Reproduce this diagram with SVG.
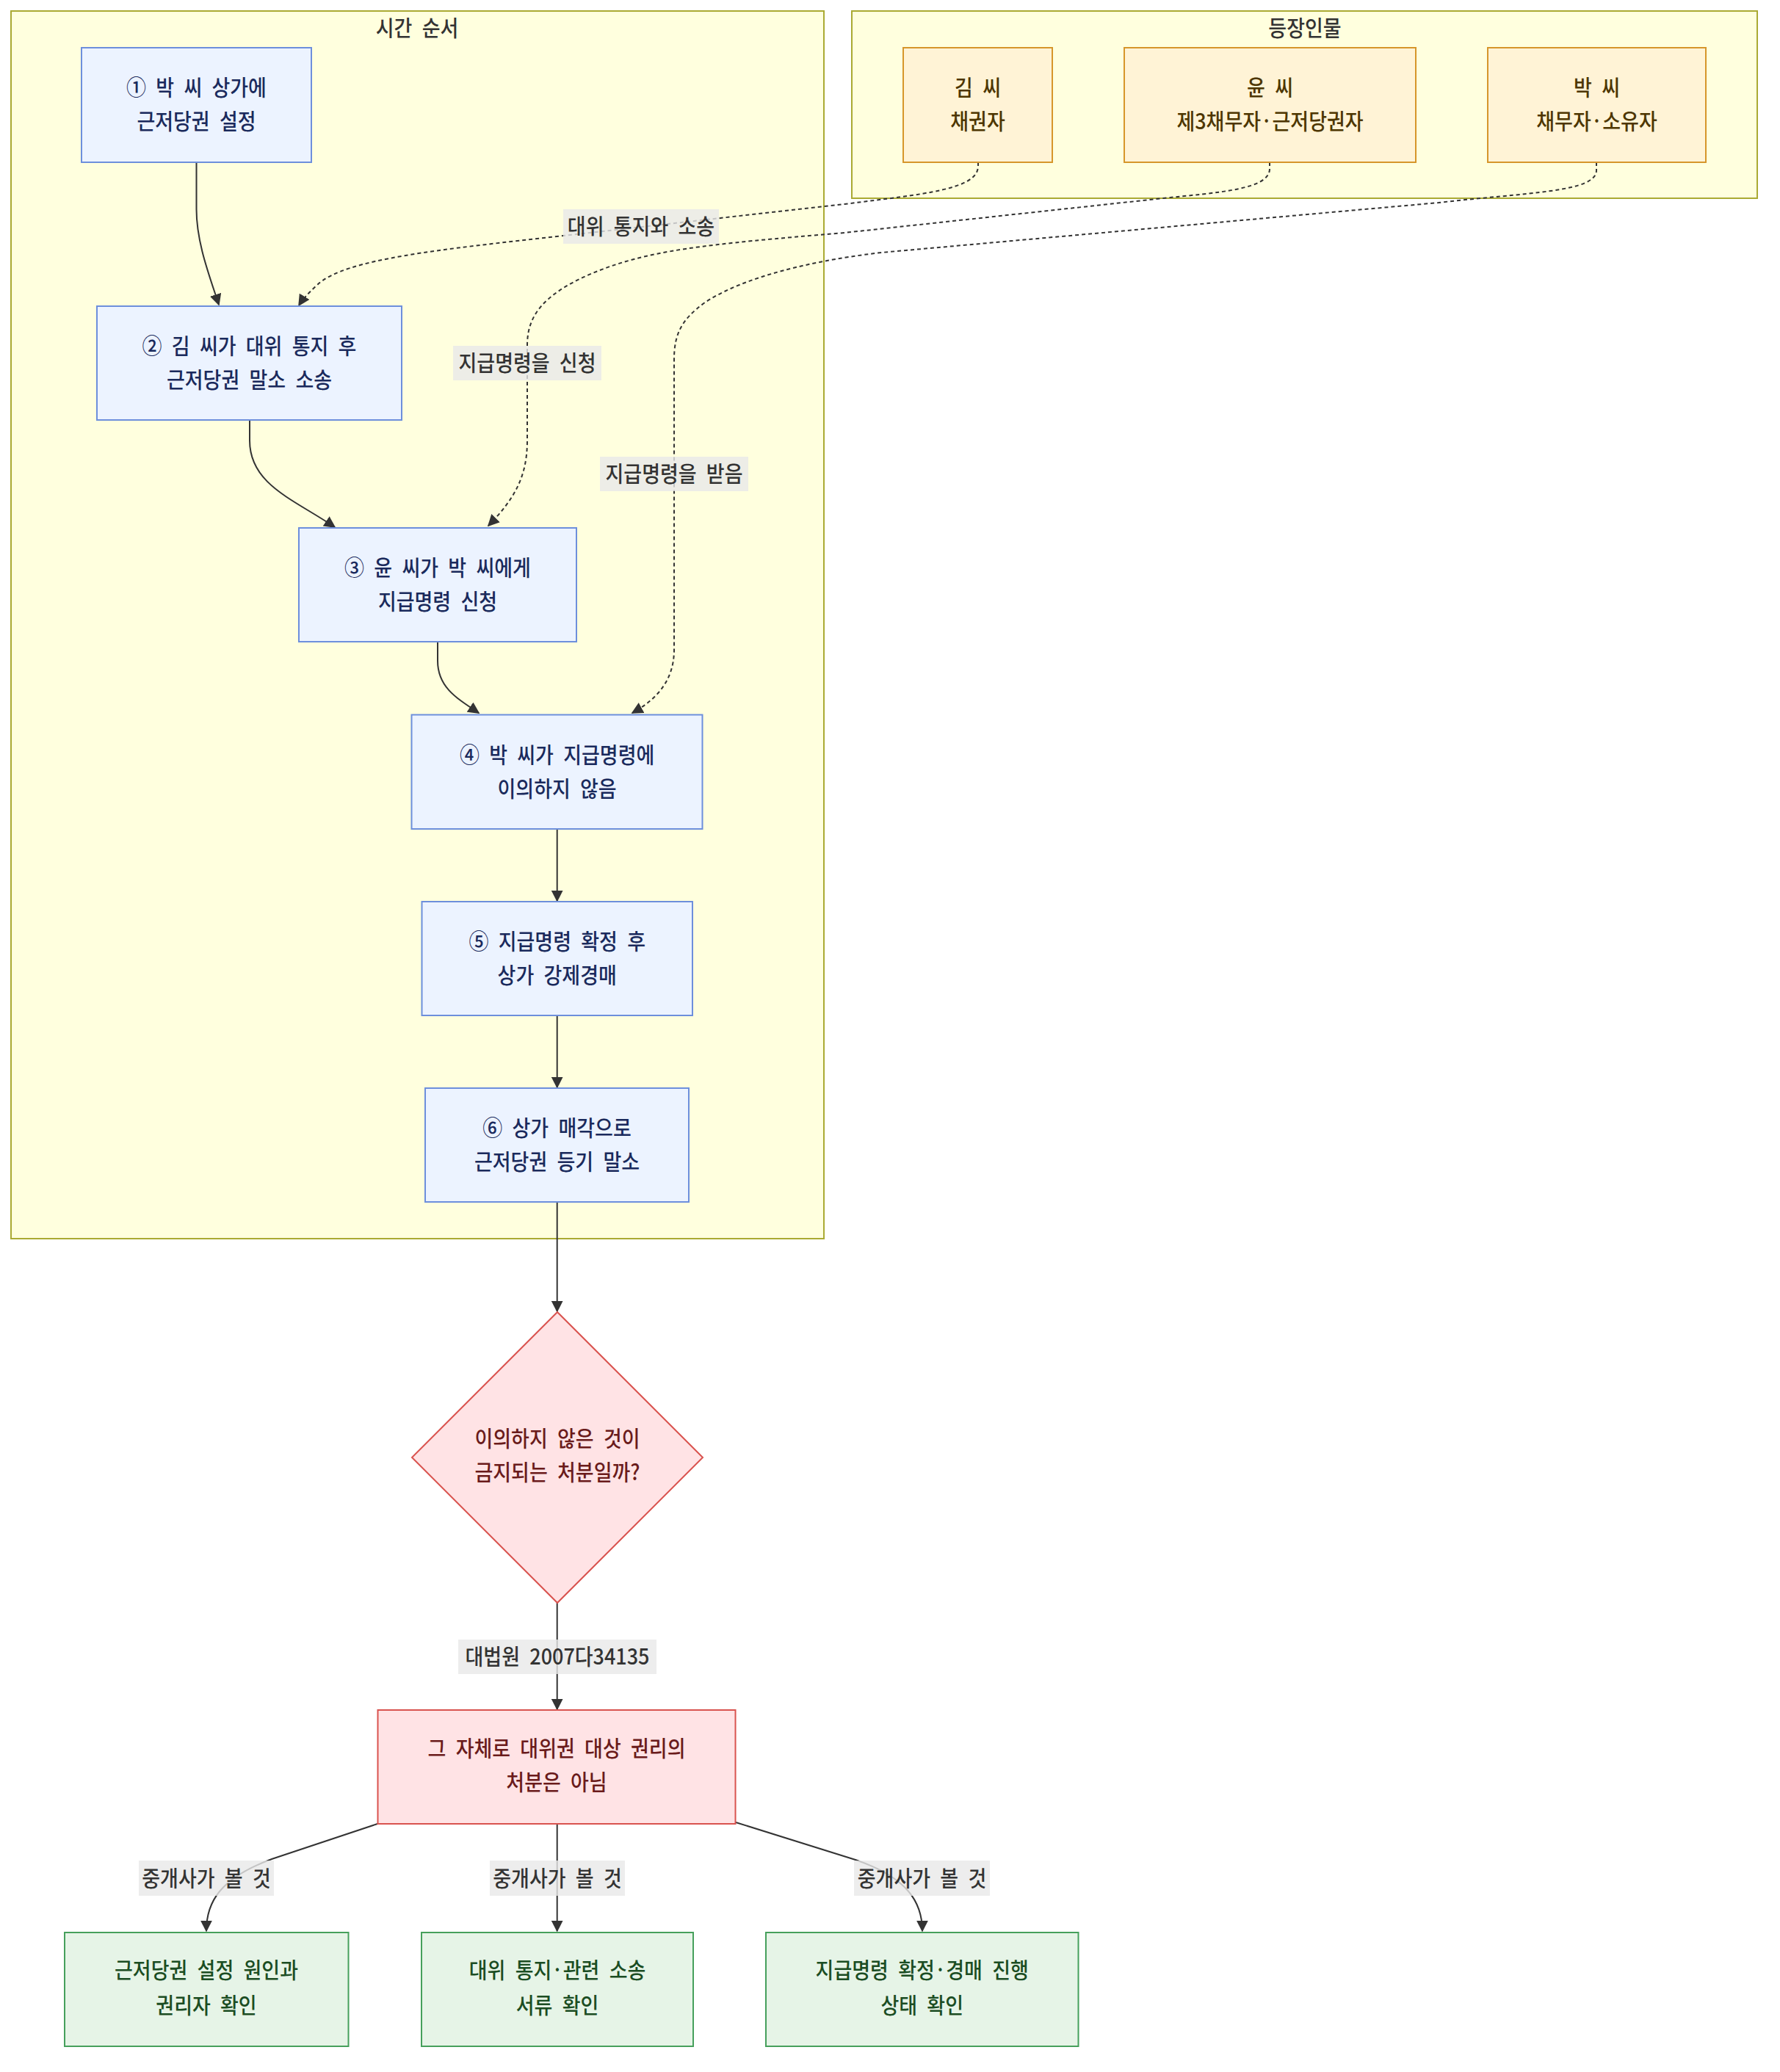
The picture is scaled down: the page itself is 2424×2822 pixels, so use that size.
<svg xmlns="http://www.w3.org/2000/svg" width="2424" height="2822" viewBox="0 0 2424 2822">
<style>
.t{font-family:"Noto Sans CJK KR","Noto Sans",sans-serif;font-size:30px;font-weight:500;text-anchor:middle;word-spacing:8px}
.cl{fill:#ffffde;stroke:#aaaa33;stroke-width:2}
.ct{fill:#333}
.step rect{fill:#ecf3ff;stroke:#6d8fdc;stroke-width:2}
.step text{fill:#1a2a5c}
.who rect{fill:#fff3d6;stroke:#d6962b;stroke-width:2}
.who text{fill:#4d3600}
.bad polygon,.bad rect{fill:#ffe3e5;stroke:#d9534f;stroke-width:2}
.bad text{fill:#6a1b1b}
.ok rect{fill:#e6f4e7;stroke:#46a05c;stroke-width:2}
.ok text{fill:#1b4d23}
.e{fill:none;stroke:#333;stroke-width:2}
.d{stroke-dasharray:5 4}
.lb rect{fill:rgba(232,232,232,0.8)}
.lb text{fill:#333}
</style>
<defs>
<marker id="ah" viewBox="0 0 10 10" refX="9" refY="5" markerUnits="userSpaceOnUse" markerWidth="16" markerHeight="16" orient="auto">
<path d="M0,0 L10,5 L0,10 z" fill="#333"/>
</marker>
</defs>

<g id="clusters">
<g id="cluster-timeline">
<rect class="cl" x="15" y="15" width="1107" height="1672"/>
<text class="t ct" transform="matrix(0.9 0 0 1 568 49)">시간 순서</text>
</g>
<g id="cluster-people">
<rect class="cl" x="1160" y="15" width="1233" height="255"/>
<text class="t ct" transform="matrix(0.9 0 0 1 1777 49)">등장인물</text>
</g>
</g>

<g id="connectors">
<path class="e" marker-end="url(#ah)" d="M267.5,221 L267.5,285 C267.5,330 285,375 298,415"/>
<path class="e" marker-end="url(#ah)" d="M340,572 L340,600 C340,660 400,680 456,718"/>
<path class="e" marker-end="url(#ah)" d="M596,874 L596,900 C596,935 620,950 652,971"/>
<path class="e" marker-end="url(#ah)" d="M758.7,1129 L758.7,1227"/>
<path class="e" marker-end="url(#ah)" d="M758.7,1383 L758.7,1481"/>
<path class="e" marker-end="url(#ah)" d="M758.7,1637 L758.7,1786"/>
<path class="e" marker-end="url(#ah)" d="M758.7,2183 L758.7,2328"/>
<path class="e" marker-end="url(#ah)" d="M514,2484 L370,2532 C300,2558 281,2590 281,2630"/>
<path class="e" marker-end="url(#ah)" d="M758.7,2484 L758.7,2630"/>
<path class="e" marker-end="url(#ah)" d="M1002,2482 L1165,2533 C1235,2557 1256,2590 1256,2630"/>
<path class="e d" marker-end="url(#ah)" d="M1332,221 L1332,226 C1332,258 1260,264 1150,278 L767,321 C600,340 470,352 432,388 C420,399 412,408 407,416"/>
<path class="e d" marker-end="url(#ah)" d="M1729,221 L1729,230 C1729,258 1660,262 1584,270 L1150,317 C960,333 880,340 800,375 C740,402 718,430 718,470 L718,600 C718,650 700,680 665,716"/>
<path class="e d" marker-end="url(#ah)" d="M2174,221 L2174,232 C2174,262 2080,262 1959,276 L1200,344 C1080,358 1000,385 960,412 C928,435 918,455 918,490 L918,885 C918,930 890,955 861,971"/>
</g>

<g id="edge-labels">
<g class="lb"><rect x="767" y="285" width="212" height="47"/><text class="t" transform="matrix(0.9 0 0 1 873 319)">대위 통지와 소송</text></g>
<g class="lb"><rect x="617" y="471" width="202" height="47"/><text class="t" transform="matrix(0.9 0 0 1 718 505)">지급명령을 신청</text></g>
<g class="lb"><rect x="817" y="622" width="202" height="47"/><text class="t" transform="matrix(0.9 0 0 1 918 656)">지급명령을 받음</text></g>
<g class="lb"><rect x="624" y="2233" width="270" height="47"/><text class="t" transform="matrix(0.9 0 0 1 759 2267)">대법원 2007다34135</text></g>
<g class="lb"><rect x="189" y="2534" width="184" height="48"/><text class="t" transform="matrix(0.9 0 0 1 281 2569)">중개사가 볼 것</text></g>
<g class="lb"><rect x="667" y="2534" width="184" height="48"/><text class="t" transform="matrix(0.9 0 0 1 759 2569)">중개사가 볼 것</text></g>
<g class="lb"><rect x="1163" y="2534" width="185" height="48"/><text class="t" transform="matrix(0.9 0 0 1 1255.5 2569)">중개사가 볼 것</text></g>
</g>

<g id="node-s1" class="step"><rect x="111" y="65" width="313" height="156"/><text class="t" transform="matrix(0.9 0 0 1 267.5 130)">① 박 씨 상가에</text><text class="t" transform="matrix(0.9 0 0 1 267.5 176)">근저당권 설정</text></g>
<g id="node-s2" class="step"><rect x="132" y="417" width="415" height="155"/><text class="t" transform="matrix(0.9 0 0 1 339.5 481.5)">② 김 씨가 대위 통지 후</text><text class="t" transform="matrix(0.9 0 0 1 339.5 527.5)">근저당권 말소 소송</text></g>
<g id="node-s3" class="step"><rect x="407" y="719" width="378" height="155"/><text class="t" transform="matrix(0.9 0 0 1 596 783.5)">③ 윤 씨가 박 씨에게</text><text class="t" transform="matrix(0.9 0 0 1 596 829.5)">지급명령 신청</text></g>
<g id="node-s4" class="step"><rect x="560.5" y="973.5" width="396" height="155.5"/><text class="t" transform="matrix(0.9 0 0 1 758.6 1038.5)">④ 박 씨가 지급명령에</text><text class="t" transform="matrix(0.9 0 0 1 758.6 1084.5)">이의하지 않음</text></g>
<g id="node-s5" class="step"><rect x="574.5" y="1228" width="368.5" height="155"/><text class="t" transform="matrix(0.9 0 0 1 758.7 1292.5)">⑤ 지급명령 확정 후</text><text class="t" transform="matrix(0.9 0 0 1 758.7 1338.5)">상가 강제경매</text></g>
<g id="node-s6" class="step"><rect x="579" y="1482" width="359" height="155"/><text class="t" transform="matrix(0.9 0 0 1 758.5 1546.5)">⑥ 상가 매각으로</text><text class="t" transform="matrix(0.9 0 0 1 758.5 1592.5)">근저당권 등기 말소</text></g>

<g id="node-kim" class="who"><rect x="1230" y="65" width="203" height="156"/><text class="t" transform="matrix(0.9 0 0 1 1331.5 130)">김 씨</text><text class="t" transform="matrix(0.9 0 0 1 1331.5 176)">채권자</text></g>
<g id="node-yoon" class="who"><rect x="1531" y="65" width="397" height="156"/><text class="t" transform="matrix(0.9 0 0 1 1729.5 130)">윤 씨</text><text class="t" transform="matrix(0.9 0 0 1 1729.5 176)">제3채무자·근저당권자</text></g>
<g id="node-park" class="who"><rect x="2026" y="65" width="297" height="156"/><text class="t" transform="matrix(0.9 0 0 1 2174.5 130)">박 씨</text><text class="t" transform="matrix(0.9 0 0 1 2174.5 176)">채무자·소유자</text></g>

<g id="node-q" class="bad"><polygon points="759,1787 957,1985 759,2183 561,1985"/><text class="t" transform="matrix(0.9 0 0 1 759 1970)">이의하지 않은 것이</text><text class="t" transform="matrix(0.9 0 0 1 759 2016)">금지되는 처분일까?</text></g>
<g id="node-r" class="bad"><rect x="514.5" y="2329" width="487" height="155"/><text class="t" transform="matrix(0.9 0 0 1 758 2392)">그 자체로 대위권 대상 권리의</text><text class="t" transform="matrix(0.9 0 0 1 758 2438)">처분은 아님</text></g>

<g id="node-c1" class="ok"><rect x="88" y="2632" width="386.5" height="155"/><text class="t" transform="matrix(0.9 0 0 1 281 2694)">근저당권 설정 원인과</text><text class="t" transform="matrix(0.9 0 0 1 281 2742)">권리자 확인</text></g>
<g id="node-c2" class="ok"><rect x="574" y="2632" width="370" height="155"/><text class="t" transform="matrix(0.9 0 0 1 759 2694)">대위 통지·관련 소송</text><text class="t" transform="matrix(0.9 0 0 1 759 2742)">서류 확인</text></g>
<g id="node-c3" class="ok"><rect x="1043" y="2632" width="425.5" height="155"/><text class="t" transform="matrix(0.9 0 0 1 1255.7 2694)">지급명령 확정·경매 진행</text><text class="t" transform="matrix(0.9 0 0 1 1255.7 2742)">상태 확인</text></g>
</svg>
